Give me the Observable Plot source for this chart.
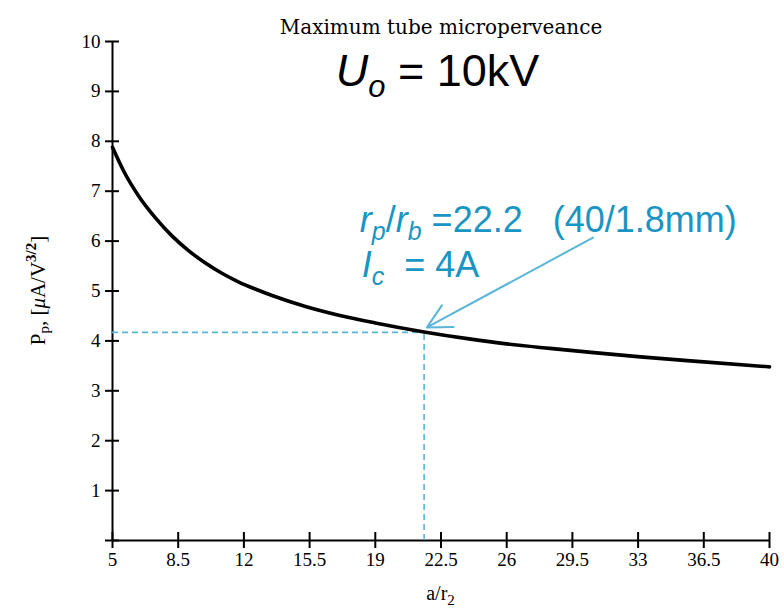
<!DOCTYPE html>
<html><head><meta charset="utf-8">
<script src="https://cdn.jsdelivr.net/npm/d3@7"></script>
<script src="https://cdn.jsdelivr.net/npm/@observablehq/plot@0.6"></script>
<style>body{margin:0;background:#fff} #chart{width:784px;height:610px}</style>
</head><body><div id="chart"></div>
<script>
// ---- data ----
const ratio      = [5, 5.6, 6.4, 7.3, 8.18, 9.05, 9.95, 10.85, 11.73, 12.6, 13.5, 15.28, 17, 19, 21.6, 24, 26, 28.3, 30.5, 33.13, 36.5, 40];
const perveance  = [7.88, 7.40, 6.90, 6.46, 6.10, 5.81, 5.56, 5.35, 5.18, 5.04, 4.91, 4.69, 4.52, 4.36, 4.18, 4.04, 3.94, 3.85, 3.77, 3.68, 3.58, 3.48];
const xTicks = [5, 8.5, 12, 15.5, 19, 22.5, 26, 29.5, 33, 36.5, 40];
const yTicks = [0, 1, 2, 3, 4, 5, 6, 7, 8, 9, 10];
const xDomain = [5, 40];
const yDomain = [0, 10];
const markerX = [21.6];
const markerY = [4.17];
const arrowFrom = [30.6, 6.07];
const arrowTo   = [21.75, 4.27];
const annotAt   = [18.2, 6.17];
const titleText = "Maximum tube microperveance";
const voltageText = ["U", "o", " = 10kV"];
const xLabelParts = ["a/r", "2"];

const data = ratio.map((r, i) => ({ratio: r, p: perveance[i]}));
const marker = markerX.map((x, i) => ({x, y: markerY[i]}));
const arrows = [{x1: arrowFrom[0], y1: arrowFrom[1], x2: arrowTo[0], y2: arrowTo[1]}];

const blue = "#5ab6d9";
const textBlue = "#1995c4";
const W = 784, H = 610, mL = 112, mR = 15, mT = 41, mB = 70;
const frameW = W - mL - mR, frameH = H - mT - mB;

const plot = Plot.plot({
  width: W, height: H,
  marginLeft: mL, marginRight: mR, marginTop: mT, marginBottom: mB,
  style: {fontFamily: "Liberation Serif", fontSize: "19px", color: "#000", background: "#fff", overflow: "visible"},
  x: {domain: xDomain},
  y: {domain: yDomain},
  marks: [
    Plot.axisX(xTicks, {tickSize: 8, tickPadding: 4, strokeWidth: 2, label: null, tickFormat: d => String(d)}),
    Plot.tickX(xTicks, {x: d => d, insetTop: frameH - 8, strokeWidth: 2}),
    Plot.axisY(yTicks, {tickSize: 7, tickPadding: 5, strokeWidth: 2, label: null, tickFormat: d => d === 0 ? "" : String(d)}),
    Plot.tickY(yTicks, {y: d => d, insetRight: frameW - 7, strokeWidth: 2}),
    Plot.ruleX([xDomain[0]], {strokeWidth: 2}),
    Plot.ruleY([yDomain[0]], {strokeWidth: 2}),
    Plot.ruleY(marker, {y: "y", x1: () => xDomain[0], x2: "x", stroke: blue, strokeWidth: 1.6, strokeDasharray: "6,4"}),
    Plot.ruleX(marker, {x: "x", y1: () => yDomain[0], y2: "y", stroke: blue, strokeWidth: 1.6, strokeDasharray: "6,4"}),
    Plot.line(data, {x: "ratio", y: "p", curve: "monotone-x", stroke: "#000", strokeWidth: 3.6}),
    Plot.arrow(arrows, {x1: "x1", y1: "y1", x2: "x2", y2: "y2", stroke: blue, strokeWidth: 2, headLength: 20, headAngle: 55}),
    Plot.text([titleText], {text: d => d, frameAnchor: "top", dy: -22, fontFamily: "DejaVu Serif", fontSize: 20})
  ]
});
document.getElementById("chart").appendChild(plot);

const svg = d3.select(plot);
const sx = plot.scale("x").apply, sy = plot.scale("y").apply;
const cx = (sx(xDomain[0]) + sx(xDomain[1])) / 2;
const frameTop = sy(yDomain[1]);

// U_o = 10kV
const vt = svg.append("text").attr("x", cx - 3).attr("y", frameTop + 45)
  .attr("text-anchor", "middle").attr("font-family", "Liberation Sans, Arial, sans-serif")
  .attr("font-size", 45).attr("fill", "#000").style("white-space", "pre");
vt.append("tspan").attr("font-style", "italic").text(voltageText[0]);
vt.append("tspan").attr("font-style", "italic").attr("font-size", 31).attr("dy", 11).text(voltageText[1]);
vt.append("tspan").attr("dy", -11).text(voltageText[2]);

// annotation
const ax = sx(annotAt[0]), ay = sy(annotAt[1]);
const a1 = svg.append("text").attr("x", ax).attr("y", ay).attr("text-anchor", "start")
  .attr("font-family", "Liberation Sans, Arial, sans-serif").attr("font-size", 36)
  .attr("fill", textBlue).style("white-space", "pre");
a1.append("tspan").attr("font-style", "italic").text("r");
a1.append("tspan").attr("font-style", "italic").attr("font-size", 25).attr("dy", 8).text("p");
a1.append("tspan").attr("dy", -8).text("/");
a1.append("tspan").attr("font-style", "italic").text("r");
a1.append("tspan").attr("font-style", "italic").attr("font-size", 25).attr("dy", 8).text("b");
a1.append("tspan").attr("dy", -8).text(" =22.2\u00A0\u00A0\u00A0(40/1.8mm)");
const a2 = svg.append("text").attr("x", ax + 2).attr("y", ay + 45).attr("text-anchor", "start")
  .attr("font-family", "Liberation Sans, Arial, sans-serif").attr("font-size", 36)
  .attr("fill", textBlue).style("white-space", "pre");
a2.append("tspan").attr("font-style", "italic").text("I");
a2.append("tspan").attr("font-style", "italic").attr("font-size", 25).attr("dy", 8).text("c");
a2.append("tspan").attr("dy", -8).text("\u00A0\u00A0= 4A");

// y label
const ycy = (sy(yDomain[0]) + sy(yDomain[1])) / 2;
const yl = svg.append("text").attr("transform", `translate(45,${ycy}) rotate(-90)`)
  .attr("text-anchor", "middle").attr("font-family", "Liberation Serif").attr("font-size", 21).attr("fill", "#000");
yl.append("tspan").text("P");
yl.append("tspan").attr("font-size", 15).attr("dy", 4).text("p");
yl.append("tspan").attr("dy", -4).text(", [");
yl.append("tspan").attr("font-style", "italic").text("\u03BC");
yl.append("tspan").text("A/V");
yl.append("tspan").attr("font-size", 15).attr("font-weight", "bold").attr("dy", -9).text("3/2");
yl.append("tspan").attr("dy", 9).text("]");

// x label
const xl = svg.append("text").attr("x", cx).attr("y", sy(yDomain[0]) + 60)
  .attr("text-anchor", "middle").attr("font-family", "Liberation Serif").attr("font-size", 20).attr("fill", "#000");
xl.append("tspan").text(xLabelParts[0]);
xl.append("tspan").attr("font-size", 15).attr("dy", 5).text(xLabelParts[1]);
</script>
</body></html>
